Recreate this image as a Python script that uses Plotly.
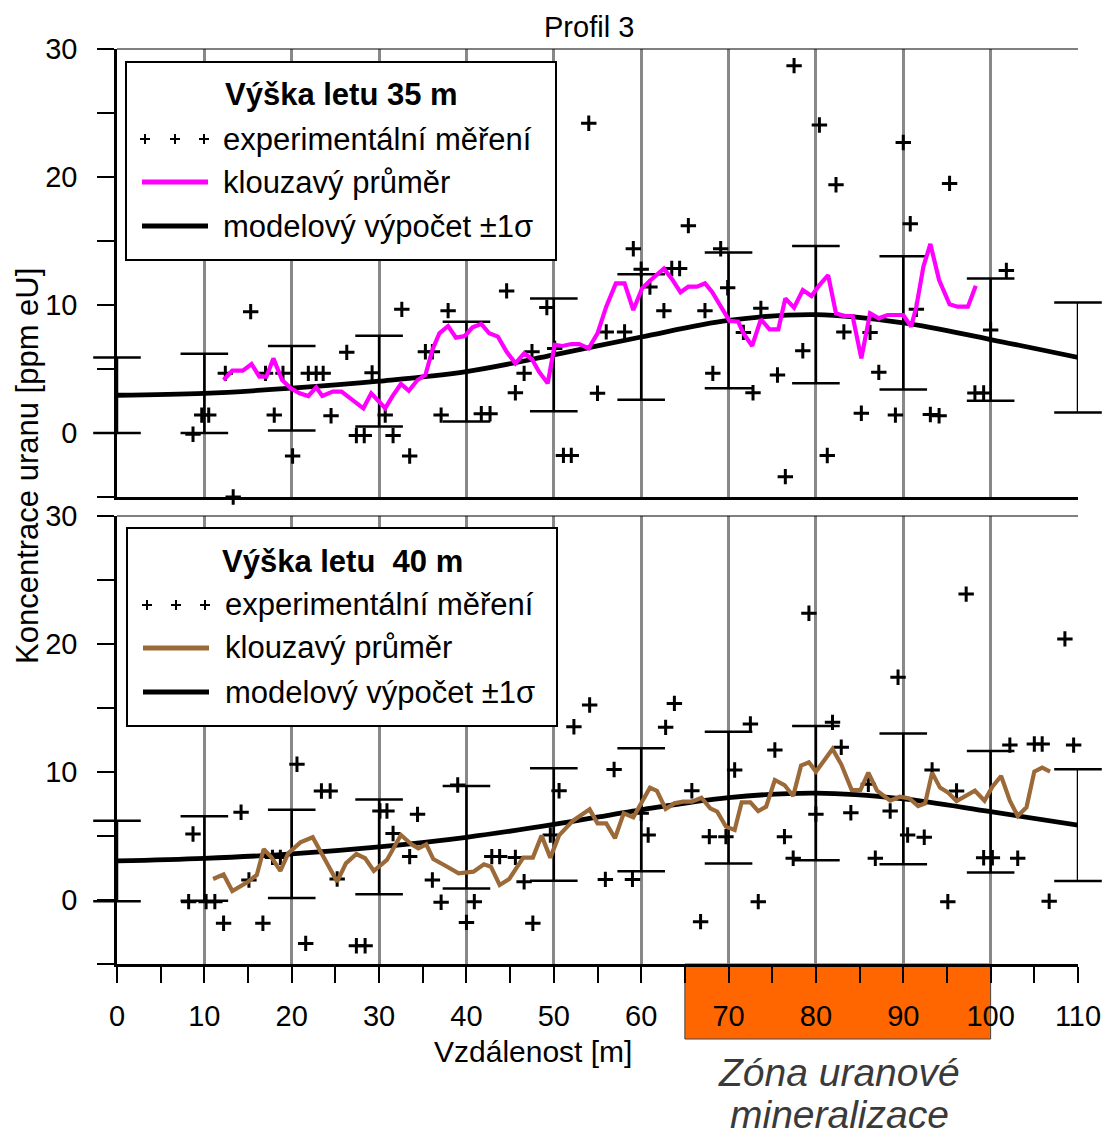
import plotly.graph_objects as go

# ---------------- data ----------------
model_x = [0, 10, 20, 30, 40, 50, 60, 70, 80, 90, 100, 110]
model_top = [2.95, 3.1, 3.5, 4.05, 4.8, 6.1, 7.5, 8.8, 9.25, 8.6, 7.3, 5.9]
sigma_top = [2.95, 3.1, 3.3, 3.55, 3.9, 4.4, 4.9, 5.3, 5.36, 5.2, 4.78, 4.3]
model_bot = [3.05, 3.25, 3.6, 4.15, 4.9, 5.9, 7.05, 8.0, 8.35, 7.9, 6.9, 5.85]
sigma_bot = [3.15, 3.3, 3.45, 3.7, 4.0, 4.4, 4.8, 5.15, 5.25, 5.1, 4.75, 4.37]

meas_top_x = [8.7, 9.7, 10.5, 12.4, 13.3, 15.3, 17.0, 19.0, 18.0, 20.1, 21.9, 22.8, 23.6,
              24.5, 26.3, 27.4, 28.3, 29.2, 30.7, 31.6, 32.6, 33.5, 35.3, 36.1, 37.1, 37.9,
              41.7, 42.7, 44.6, 45.6, 46.6, 47.5, 49.2, 50.1, 51.1, 52.0, 54.0, 55.0, 56.0,
              58.1, 59.1, 60.0, 61.0, 62.6, 63.5, 64.4, 65.4, 67.3, 68.2, 69.1, 69.9, 71.7,
              72.8, 73.7, 75.6, 76.5, 77.5, 78.5, 80.4, 81.3, 82.3, 83.2, 85.2, 86.2, 87.2,
              89.1, 90.0, 90.8, 91.5, 93.1, 94.1, 95.3, 98.2, 99.2, 100.0, 101.8]
meas_top_y = [-0.1, 1.4, 1.4, 4.66, -5.0, 9.48, 4.66, 4.66, 1.4, -1.8, 4.66, 4.66, 4.66,
              1.35, 6.3, -0.2, -0.2, 4.7, 1.4, -0.2, 9.66, -1.8, 6.35, 6.35, 1.4, 9.56,
              1.5, 1.5, 11.1, 3.15, 4.66, 6.35, 9.8, 6.6, -1.75, -1.75, 24.2, 3.1, 7.9,
              7.9, 14.4, 12.8, 11.4, 9.56, 12.85, 12.85, 16.2, 9.56, 4.66, 14.4, 11.35, 7.86,
              3.15, 9.74, 4.53, -3.41, 28.7, 6.43, 24.06, -1.76, 19.4, 7.9, 1.54, 7.86, 4.74,
              1.4, 22.7, 16.35, 9.66, 1.45, 1.35, 19.5, 3.12, 3.12, 8.05, 12.7]

avg_top_x = [12.2, 13.2, 14.4, 15.4, 16.3, 17.1, 17.9, 18.9, 19.9, 20.9, 21.9, 22.8, 23.5,
             24.7, 25.7, 26.4, 27.4, 28.2, 29.1, 29.8, 30.7, 31.5, 32.5, 33.4, 34.4, 35.3,
             36.1, 36.9, 37.9, 38.8, 39.8, 40.7, 41.7, 42.6, 43.6, 44.6, 45.6, 46.6, 47.5,
             48.3, 49.3, 50.1, 51.0, 52.0, 52.9, 54.0, 55.0, 56.0, 57.1, 58.1, 59.1, 60.1,
             61.0, 62.6, 63.6, 64.5, 65.4, 66.4, 67.3, 68.1, 69.3, 70.1, 71.1, 71.7, 72.7,
             73.7, 74.7, 75.7, 76.5, 77.5, 78.5, 79.5, 80.4, 81.4, 82.3, 83.2, 84.2, 85.2,
             86.2, 87.2, 88.2, 90.0, 90.9, 91.5, 92.3, 93.1, 94.1, 95.3, 96.2, 97.4, 98.3]
avg_top_y = [4.14, 4.87, 4.87, 5.39, 4.4, 4.4, 5.83, 4.14, 3.49, 3.1, 2.89, 3.57, 2.89,
             3.23, 3.23, 2.89, 2.32, 1.93, 3.1, 2.58, 1.93, 2.84, 3.83, 3.3, 4.14, 4.53,
             6.48, 7.79, 8.36, 7.45, 7.58, 8.26, 8.52, 7.79, 7.53, 6.35, 5.44, 6.22, 5.76,
             4.79, 3.88, 6.88, 6.8, 6.95, 6.95, 6.61, 7.79, 9.87, 11.69, 11.69, 9.61, 11.3,
             11.9, 12.84, 11.95, 10.99, 11.43, 11.43, 11.69, 11.04, 9.61, 8.77, 8.7, 7.79, 6.8,
             8.88, 8.1, 8.1, 10.52, 9.79, 11.17, 10.7, 11.56, 12.34, 9.35, 9.14, 9.14, 5.83,
             9.35, 8.96, 9.22, 9.22, 8.31, 9.87, 12.99, 14.77, 11.95, 10.05, 9.87, 9.87, 11.51]

meas_bot_x = [8.2, 8.7, 10.2, 11.2, 12.2, 14.2, 15.1, 16.7, 17.8, 18.7, 20.6, 21.6, 23.4,
              24.4, 25.2, 27.4, 28.4, 30.1, 30.9, 31.6, 33.5, 34.4, 36.1, 37.1, 39.0, 40.0,
              40.9, 42.9, 43.8, 45.6, 46.6, 47.6, 49.6, 50.6, 52.3, 54.1, 55.9, 56.9, 59.0,
              60.0, 60.8, 62.8, 63.8, 65.8, 66.8, 67.8, 69.7, 70.7, 72.5, 73.4, 75.3, 76.4,
              77.4, 79.2, 80.0, 81.9, 82.9, 84.0, 86.0, 86.8, 88.5, 89.4, 90.5, 92.4, 93.3,
              95.1, 96.1, 97.2, 99.2, 100.2, 102.2, 103.1, 105.0, 105.9, 106.7, 108.5, 109.5]
meas_bot_y = [-0.13, 5.16, -0.13, -0.13, -1.82, 6.85, 1.56, -1.82, 3.33, 3.33, 10.6, -3.39, 8.52,
              8.52, 1.64, -3.57, -3.57, 6.95, 6.95, 5.2, 3.39, 6.69, 1.56, -0.18, 8.98, -1.75,
              -0.13, 3.39, 3.39, 3.33, 1.43, -1.82, 5.08, 8.54, 13.54, 15.23, 1.61, 10.2, 1.61,
              6.77, 5.08, 13.49, 15.36, 8.54, -1.69, 4.95, 4.95, 10.16, 13.75, -0.13, 11.72, 4.95,
              3.26, 22.4, 6.7, 13.88, 11.93, 6.82, 9.04, 3.26, 6.95, 17.4, 5.08, 4.9, 10.16,
              -0.13, 8.52, 23.9, 3.3, 3.3, 12.1, 3.26, 12.19, 12.19, -0.1, 20.4, 12.1]

avg_bot_x = [11.0, 12.2, 13.2, 15.0, 16.0, 16.8, 17.7, 18.7, 19.6, 21.0, 22.4, 23.4, 24.4,
             25.2, 26.2, 27.4, 28.4, 29.4, 30.9, 32.5, 33.7, 34.5, 35.4, 36.2, 37.8, 39.1,
             40.8, 42.0, 42.8, 43.8, 44.9, 46.5, 47.6, 48.6, 49.6, 50.6, 52.2, 54.1, 55.0,
             56.0, 57.0, 58.0, 59.1, 61.0, 61.8, 62.8, 63.8, 64.8, 65.8, 66.9, 67.9, 68.7,
             69.7, 70.7, 71.5, 72.5, 73.4, 74.3, 75.3, 76.4, 77.4, 78.3, 79.2, 80.0, 80.9,
             81.9, 82.9, 84.1, 85.1, 86.0, 87.0, 88.5, 89.6, 90.7, 91.7, 92.5, 93.3, 94.2,
             95.1, 96.1, 98.2, 99.3, 100.2, 101.2, 102.2, 103.1, 104.1, 105.0, 105.9, 106.8]
avg_bot_y = [1.64, 2.0, 0.7, 1.43, 1.95, 3.98, 3.31, 2.27, 3.65, 4.5, 4.9, 3.65, 2.47,
             1.43, 2.86, 3.59, 3.26, 2.27, 3.13, 5.08, 4.35, 4.04, 4.35, 3.2, 2.6, 2.08,
             2.21, 2.79, 2.6, 1.17, 1.64, 3.31, 3.31, 5.03, 3.31, 5.05, 6.2, 7.08, 5.99,
             5.99, 4.82, 6.77, 6.46, 8.78, 8.52, 7.11, 7.55, 7.68, 7.68, 7.99, 7.16, 6.9,
             5.73, 5.47, 7.63, 7.63, 6.95, 7.29, 9.375, 8.98, 8.125, 10.5, 10.76, 10.03, 10.86,
             11.8, 10.6, 8.59, 8.6, 9.95, 8.54, 7.76, 8.07, 7.94, 7.34, 7.55, 9.95, 8.78,
             8.41, 7.73, 8.54, 7.76, 8.85, 9.69, 7.76, 6.56, 7.24, 10.03, 10.34, 10.03]

zone_x = [65, 100]
x_tick_vals = [0, 10, 20, 30, 40, 50, 60, 70, 80, 90, 100, 110]
y_tick_vals = [0, 10, 20, 30]

FONT = "Liberation Sans, Arial, sans-serif"
MAGENTA = "#FF00FF"
BROWN = "#9B6A38"
GRID = "#888888"

# layout geometry (pixels)
W, H = 1105, 1135
L, R, T, B = 117, 27, 49, 171
PW, PH = W - L - R, H - T - B


def P(px, py):
    return (px - L) / PW, (H - B - py) / PH


fig = go.Figure()

for xa, ya, mod, sig, mx, my, ax, ay, col in [
    ("x", "y", model_top, sigma_top, meas_top_x, meas_top_y, avg_top_x, avg_top_y, MAGENTA),
    ("x2", "y2", model_bot, sigma_bot, meas_bot_x, meas_bot_y, avg_bot_x, avg_bot_y, BROWN),
]:
    # error-bar stems
    fig.add_trace(go.Scatter(
        x=model_x, y=mod, xaxis=xa, yaxis=ya, mode="markers",
        marker=dict(size=1, color="rgba(0,0,0,0)"),
        error_y=dict(type="data", array=sig, visible=True, color="black",
                     thickness=2.5, width=0),
        cliponaxis=False, showlegend=False, hoverinfo="skip"))
    # error-bar caps (as unclipped markers)
    cap_x = model_x + model_x
    cap_y = [m + s for m, s in zip(mod, sig)] + [m - s for m, s in zip(mod, sig)]
    fig.add_trace(go.Scatter(
        x=cap_x, y=cap_y, xaxis=xa, yaxis=ya, mode="markers",
        marker=dict(symbol="line-ew", size=34, line=dict(width=2.5, color="black")),
        cliponaxis=False, showlegend=False, hoverinfo="skip"))
    fig.add_trace(go.Scatter(
        x=model_x, y=mod, xaxis=xa, yaxis=ya, mode="lines",
        line=dict(color="black", width=4.8, shape="spline", smoothing=1.0),
        showlegend=False))
    fig.add_trace(go.Scatter(
        x=mx, y=my, xaxis=xa, yaxis=ya, mode="markers",
        marker=dict(symbol="cross-thin", size=11, line=dict(width=3, color="black")),
        cliponaxis=False, showlegend=False))
    fig.add_trace(go.Scatter(
        x=ax, y=ay, xaxis=xa, yaxis=ya, mode="lines",
        line=dict(color=col, width=4.2), showlegend=False))

top_dom = [(H - B - 497) / PH, 1.0]
bot_dom = [0.0, (H - B - 516) / PH]

xcommon = dict(range=[0, 110], tickvals=x_tick_vals, showgrid=True, gridcolor=GRID,
               gridwidth=2.5, showline=True, linecolor="black", linewidth=2.5,
               zeroline=False, fixedrange=True, automargin=False)
ycommon = dict(range=[-5, 30], tickvals=y_tick_vals, showgrid=False, showline=True,
               linecolor="black", linewidth=2.5, zeroline=False, ticks="outside",
               ticklen=17, tickwidth=2, tickcolor="black", automargin=False,
               minor=dict(dtick=5, tick0=0, ticks="outside", ticklen=17, tickwidth=2,
                          tickcolor="black", showgrid=False),
               tickfont=dict(family=FONT, size=29, color="black"),
               ticklabelstandoff=14, fixedrange=True)

fig.update_layout(
    template="none",
    width=W, height=H, margin=dict(l=L, r=R, t=T, b=B, autoexpand=False),
    paper_bgcolor="white", plot_bgcolor="white", showlegend=False,
    font=dict(family=FONT, color="black"),
    xaxis=dict(**xcommon, anchor="y", showticklabels=False, ticks=""),
    yaxis=dict(**ycommon, domain=top_dom, anchor="x"),
    xaxis2=dict(**xcommon, anchor="y2", ticks="outside", ticklen=16, tickwidth=2,
                tickcolor="black",
                minor=dict(dtick=5, tick0=0, ticks="outside", ticklen=16, tickwidth=2,
                           tickcolor="black", showgrid=False),
                tickfont=dict(family=FONT, size=29, color="black"),
                ticklabelstandoff=8),
    yaxis2=dict(**ycommon, domain=bot_dom, anchor="x2"),
)

shapes = []
# thin top borders of both panels
for dom in (top_dom, bot_dom):
    shapes.append(dict(type="line", xref="paper", yref="paper", x0=0, x1=1,
                       y0=dom[1], y1=dom[1], line=dict(color="black", width=1)))
# mineralisation zone
y_zone = P(0, 1039)[1]
shapes.append(dict(type="rect", xref="x2", yref="paper", x0=zone_x[0], x1=zone_x[1],
                   y0=y_zone, y1=0, fillcolor="#FF6600",
                   line=dict(color="#444444", width=1), layer="below"))

annotations = []


def legend_box(x0, y0, x1, y1, title, line_col, plus_x, plus_y, row_y, line_x, text_x):
    a0, b0 = P(x0, y0)
    a1, b1 = P(x1, y1)
    shapes.append(dict(type="rect", xref="paper", yref="paper", x0=a0, x1=a1, y0=b1, y1=b0,
                       fillcolor="white", line=dict(color="black", width=2), layer="above"))
    for px in plus_x:
        for (dx0, dy0, dx1, dy1) in [(-5, 0, 5, 0), (0, -5, 0, 5)]:
            p0 = P(px + dx0, plus_y + dy0)
            p1 = P(px + dx1, plus_y + dy1)
            shapes.append(dict(type="line", xref="paper", yref="paper", x0=p0[0], y0=p0[1],
                               x1=p1[0], y1=p1[1], line=dict(color="black", width=2),
                               layer="above"))
    for yy, c in [(row_y[1], line_col), (row_y[2], "black")]:
        p0 = P(line_x[0], yy)
        p1 = P(line_x[1], yy)
        shapes.append(dict(type="line", xref="paper", yref="paper", x0=p0[0], y0=p0[1],
                           x1=p1[0], y1=p1[1], line=dict(color=c, width=5), layer="above"))
    tx, ty = P((x0 + x1) / 2, row_y[0] - 44)
    annotations.append(dict(text="<b>" + title + "</b>", x=tx, y=ty, xref="paper",
                            yref="paper", showarrow=False, xanchor="center",
                            yanchor="middle", font=dict(family=FONT, size=31)))
    for yy, txt in zip(row_y, ["experimentální měření", "klouzavý průměr",
                               "modelový výpočet ±1σ"]):
        qx, qy = P(text_x, yy)
        annotations.append(dict(text=txt, x=qx, y=qy, xref="paper", yref="paper",
                                showarrow=False, xanchor="left", yanchor="middle",
                                font=dict(family=FONT, size=31)))


legend_box(126, 62, 556, 260, "Výška letu 35 m", MAGENTA, [145, 175, 204], 139,
           [139, 182, 226], [142, 208], 221)
legend_box(127, 528, 557, 726, "Výška letu  40 m", BROWN, [147, 176, 205], 605,
           [605, 648, 692], [143, 209], 223)


def text_at(px, py, txt, size, **kw):
    x, y = P(px, py)
    d = dict(text=txt, x=x, y=y, xref="paper", yref="paper", showarrow=False,
             xanchor="center", yanchor="middle", font=dict(family=FONT, size=size,
                                                            color=kw.pop("color", "black")))
    d.update(kw)
    annotations.append(d)


text_at(589, 27, "Profil 3", 29)
text_at(533, 1051, "Vzdálenost [m]", 30)
text_at(27, 466, "Koncentrace uranu [ppm eU]", 31, textangle=-90)
text_at(839, 1072, "<i>Zóna uranové</i>", 39, color="#3a3a3a")
text_at(839, 1114, "<i>mineralizace</i>", 39, color="#3a3a3a")

fig.update_layout(shapes=shapes, annotations=annotations)
fig.write_html("out.html")
